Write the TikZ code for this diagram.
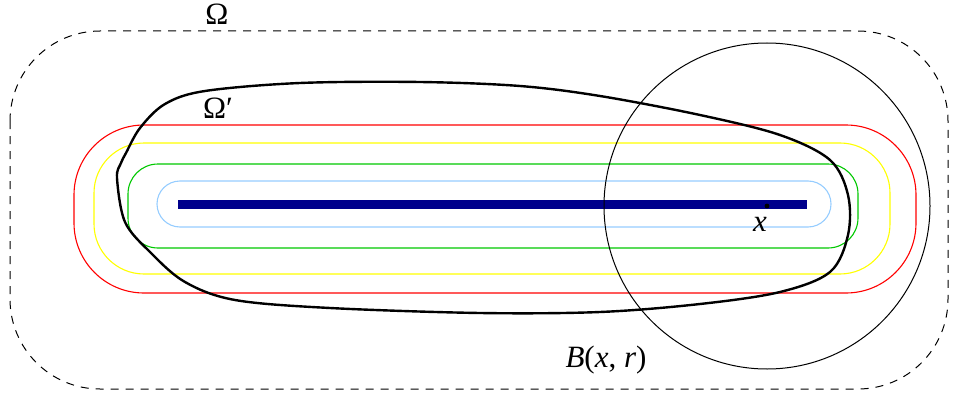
\documentclass[tikz,border=0pt]{standalone}
\usepackage{fontspec}
\setmainfont{Liberation Serif}
\usepackage{tikz}
\usetikzlibrary{
    positioning
}
\definecolor{azulclaro}{RGB}{150,205,255}
\definecolor{verde}{RGB}{0,200,0}
\definecolor{amarillo}{RGB}{255,255,0}
\definecolor{rojo}{RGB}{255,0,0}
\definecolor{marino}{RGB}{0,0,140}
\tikzset{
    nivel/.style={
        line width=1.1pt
    },
    etiqueta/.style={
        inner sep=0pt,
        font=\fontsize{31}{36}\selectfont
    }
}

\begin{document}
\begin{tikzpicture}[
    x=1pt,
    y=-1pt
]
    \useasboundingbox (0,0) rectangle (956,396);

    % Dominio
    \draw[dash pattern=on 8pt off 7pt, line width=1pt, rounded corners=90pt]
        (10,31) rectangle (948,389);

    % Entornos del segmento
    \draw[nivel, rojo, rounded corners=70pt]      (74,125) rectangle (916,293);
    \draw[nivel, amarillo, rounded corners=50pt]  (94,143) rectangle (890,274);
    \draw[nivel, verde, rounded corners=30pt]     (128,164) rectangle (858,248);
    \draw[nivel, azulclaro, rounded corners=23pt] (157,181) rectangle (831,227);

    % Segmento
    \coordinate (sa) at (178,204);
    \coordinate (sb) at (807,204);
    \draw[marino, line width=9pt] (sa) -- (sb);

    % Subdominio
    \draw[line width=2.4pt]
        plot[smooth cycle, tension=0.55] coordinates {
            (117,178) (121,163) (126,153) (140,128) (165,104) (205,91)
            (300,83) (420,82) (520,86) (600,96) (700,115) (780,135)
            (830,160) (848,195) (848,235) (830,272) (780,292) (700,304)
            (600,312) (480,313) (330,308) (235,300) (185,282)
            (150,252) (125,222)
        };

    % Bola
    \coordinate (x0) at (767,206);
    \draw[line width=1pt] (x0) circle [radius=163];
    \fill (x0) circle [radius=2.4];

    % Etiquetas
    \node[etiqueta] (omega)  at (217,14)  {Ω};
    \node[etiqueta] (omegap) at (218,108) {Ω′};
    \node[etiqueta] (lx)     at (760,224) {\textit{x}};
    \node[etiqueta] (bola)   at (606,360) {\textit{B}(\textit{x}, \textit{r})};

\end{tikzpicture}
\end{document}
